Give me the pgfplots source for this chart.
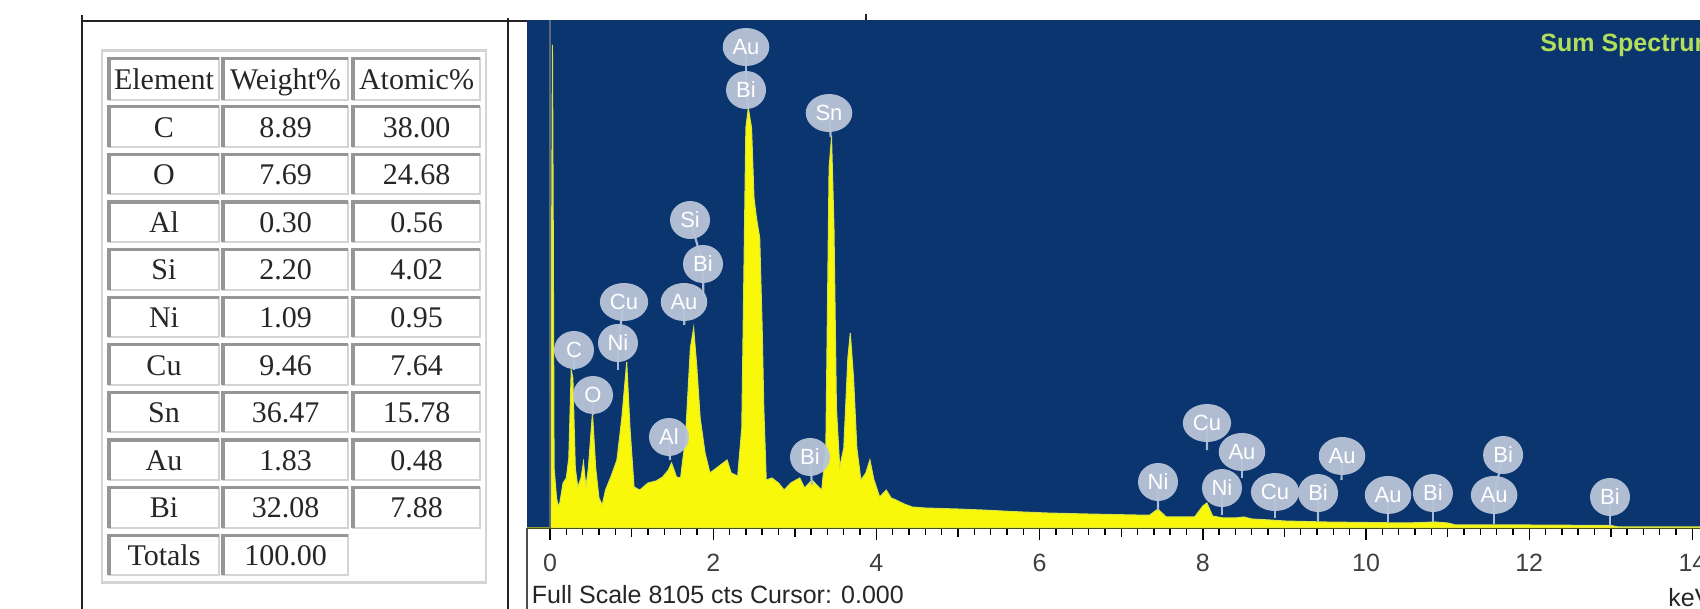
\documentclass[border=0pt]{standalone}
\usepackage{fontspec}
\setmainfont{Liberation Serif}
\setsansfont{Liberation Sans}
\usepackage{pgfplots}
\pgfplotsset{compat=1.18}
\usetikzlibrary{shapes.geometric}
\definecolor{specblue}{RGB}{10,53,110}
\definecolor{specyellow}{RGB}{250,248,10}
\definecolor{specedge}{RGB}{215,228,70}
\definecolor{bubcol}{RGB}{184,196,216}
\definecolor{stemcol}{RGB}{170,188,212}
\definecolor{sumcol}{RGB}{178,222,92}
\definecolor{celldark}{RGB}{150,150,150}
\definecolor{celllight}{RGB}{212,212,212}
\definecolor{frame}{RGB}{35,35,35}
\newcommand{\stem}[4]{\draw[stemcol, line width=1.1pt] (axis cs:#1,#2) -- (axis cs:#3,#4);}
\newcommand{\bub}[3]{\node[bubble] at (axis cs:#2,#3) {#1};}
\newcommand{\cellbox}[4]{% x1 x2 ytop ybottom
  \draw[celllight, line width=1pt] (#1pt,#3pt) rectangle (#2pt,#4pt);
  \draw[celldark, line width=1.6pt] (#1pt,#4pt) -- (#1pt,#3pt) -- (#2pt,#3pt);}
\newcommand{\celltext}[3]{\node[anchor=base, inner sep=0pt, text=black!85, font=\fontsize{15}{15}\selectfont] at (#1pt,#2pt) {#3};}
\begin{document}
\begin{tikzpicture}[bubble/.style={ellipse, fill=bubcol, fill opacity=0.95, text opacity=1, inner xsep=1.5pt, inner ysep=0pt, minimum width=20pt, minimum height=19pt, text=white, font=\sffamily\fontsize{11}{11}\selectfont}]
\useasboundingbox (0,0) rectangle (850pt,304.5pt);
% frame lines
\draw[frame, line width=1pt] (40.75pt,297pt) -- (40.75pt,0pt);
\draw[frame, line width=1pt] (40.75pt,294pt) -- (263.5pt,294pt);
\draw[frame, line width=1pt] (254pt,295.5pt) -- (254pt,0pt);
\draw[frame, line width=1pt] (433pt,297.5pt) -- (433pt,294.5pt);
% table outer box
\draw[celllight, line width=1.2pt] (51pt,279.25pt) rectangle (243pt,13.25pt);
% header
\cellbox{54.5}{109.5}{275.35}{254.4}
\cellbox{111.5}{174}{275.35}{254.4}
\cellbox{176.5}{240}{275.35}{254.4}
\celltext{82}{259.9}{Element}
\celltext{142.75}{259.9}{Weight\%}
\celltext{208.25}{259.9}{Atomic\%}
\foreach \r/\a/\b/\c in {0/C/8.89/38.00, 1/O/7.69/24.68, 2/Al/0.30/0.56, 3/Si/2.20/4.02, 4/Ni/1.09/0.95, 5/Cu/9.46/7.64, 6/Sn/36.47/15.78, 7/Au/1.83/0.48, 8/Bi/32.08/7.88}{
  \pgfmathsetmacro\yt{251.1-23.8*\r}
  \pgfmathsetmacro\yb{\yt-20}
  \pgfmathsetmacro\ytx{\yt-15.2}
  \cellbox{54.5}{109.5}{\yt}{\yb}
  \cellbox{111.5}{174}{\yt}{\yb}
  \cellbox{176.5}{240}{\yt}{\yb}
  \celltext{82}{\ytx}{\a}
  \celltext{142.75}{\ytx}{\b}
  \celltext{208.25}{\ytx}{\c}
}
\pgfmathsetmacro\yt{251.1-23.8*9}
\pgfmathsetmacro\yb{\yt-20}
\pgfmathsetmacro\ytx{\yt-15.2}
\cellbox{54.5}{109.5}{\yt}{\yb}
\cellbox{111.5}{174}{\yt}{\yb}
\celltext{82}{\ytx}{Totals}
\celltext{142.75}{\ytx}{100.00}

\begin{axis}[
  at={(263.5pt,40.5pt)}, anchor=south west,
  scale only axis, width=603.1pt, height=254pt,
  xmin=-0.282, xmax=14.5, ymin=0, ymax=8105,
  axis background/.style={fill=specblue},
  axis x line*=bottom, axis y line=none,
  x axis line style={black, line width=0.8pt, -},
  ytick=\empty,
  xtick={0,2,...,14},
  minor x tick num=9,
  extra x ticks={1,3,...,13},
  extra x tick labels={},
  extra x tick style={major tick length=4.5pt},
  tick align=outside,
  major tick length=6pt, minor tick length=3.5pt,
  tick style={black, line width=0.7pt},
  xticklabel style={font=\sffamily\fontsize{12.5}{12.5}\selectfont, text=black!75, anchor=base, yshift=-16pt},
  /pgf/number format/assume math mode=true,
  clip=false,
]
\addplot[fill=specyellow, draw=specedge, line width=0.5pt] coordinates {
(-0.28,0) (0.00,0) (0.012,479) (0.02,4787) (0.03,7706) (0.04,4787) (0.05,957) (0.08,479)
(0.10,351) (0.12,399) (0.16,718) (0.20,798) (0.23,1117) (0.26,2521) (0.28,2393)
(0.31,957) (0.34,654) (0.38,798) (0.41,1053) (0.44,654) (0.47,957) (0.52,1835)
(0.56,957) (0.60,479) (0.64,367) (0.68,606) (0.75,830) (0.82,1085) (0.88,1755)
(0.94,2649) (0.98,1596) (1.03,654) (1.10,606) (1.20,718) (1.30,750) (1.38,814)
(1.45,925) (1.49,1037) (1.55,814) (1.60,798) (1.66,1436) (1.72,2872) (1.76,3191)
(1.80,2553) (1.84,1755) (1.90,1197) (1.96,878) (2.04,957) (2.12,1037) (2.17,1085)
(2.22,878) (2.30,830) (2.35,1596) (2.40,6382) (2.43,6701) (2.47,6382) (2.50,5265)
(2.53,4946) (2.57,4627) (2.60,3191) (2.62,1915) (2.65,766) (2.72,798) (2.80,718)
(2.87,606) (2.95,718) (3.06,798) (3.12,638) (3.21,766) (3.28,670) (3.33,606)
(3.38,1276) (3.42,5744) (3.45,6238) (3.48,4787) (3.51,1915) (3.55,973) (3.60,1276)
(3.65,2712) (3.68,3111) (3.72,2393) (3.76,1276) (3.81,766) (3.87,878) (3.92,1085)
(3.97,766) (4.04,495) (4.12,606) (4.18,479) (4.24,447) (4.34,383) (4.44,335)
(4.60,319) (5.00,303) (5.30,287) (5.80,255) (6.10,239) (6.60,223) (7.20,207)
(7.35,207) (7.45,303) (7.55,176) (7.90,176) (8.00,351) (8.05,399) (8.12,191)
(8.25,160) (8.40,160) (8.50,176) (8.60,144) (8.82,128) (9.00,112) (9.50,96)
(10.00,88) (10.50,80) (10.85,96) (11.00,80) (11.10,48) (12.00,48) (13.00,40)
(13.10,16) (14.50,16)
} \closedcycle;
\draw[gray!70!specblue, line width=0.6pt] (axis cs:0,0) -- (axis cs:0,8105);
% stems
\stem{2.402}{7674}{2.402}{6988}
\stem{2.402}{6988}{2.43}{6701}
\stem{3.419}{6621}{3.44}{6238}
\stem{1.716}{4914}{1.875}{4212}
\stem{1.875}{4212}{1.88}{3700}
\stem{1.642}{3606}{1.645}{3239}
\stem{0.907}{3606}{0.833}{2952}
\stem{0.833}{2952}{0.833}{2521}
\stem{0.294}{2840}{0.29}{2521}
\stem{0.527}{2122}{0.527}{1803}
\stem{1.458}{1452}{1.47}{1085}
\stem{3.186}{1133}{3.21}{686}
\stem{7.451}{734}{7.45}{287}
\stem{8.051}{1675}{8.05}{1244}
\stem{8.480}{1213}{8.48}{798}
\stem{8.235}{638}{8.235}{207}
\stem{8.885}{574}{8.885}{160}
\stem{9.412}{558}{9.41}{96}
\stem{9.706}{1149}{9.70}{766}
\stem{10.27}{527}{10.27}{96}
\stem{10.82}{558}{10.82}{96}
\stem{11.68}{1165}{11.57}{527}
\stem{11.57}{527}{11.57}{64}
\stem{12.99}{495}{12.99}{32}
% bubbles
\bub{Au}{2.402}{7674}
\bub{Bi}{2.402}{6988}
\bub{Sn}{3.419}{6621}
\bub{Si}{1.716}{4914}
\bub{Bi}{1.875}{4212}
\bub{Au}{1.642}{3606}
\bub{Cu}{0.907}{3606}
\bub{Ni}{0.833}{2952}
\bub{C}{0.294}{2840}
\bub{O}{0.527}{2122}
\bub{Al}{1.458}{1452}
\bub{Bi}{3.186}{1133}
\bub{Ni}{7.451}{734}
\bub{Cu}{8.051}{1675}
\bub{Au}{8.480}{1213}
\bub{Ni}{8.235}{638}
\bub{Cu}{8.885}{574}
\bub{Bi}{9.412}{558}
\bub{Au}{9.706}{1149}
\bub{Au}{10.27}{527}
\bub{Bi}{10.82}{558}
\bub{Bi}{11.68}{1165}
\bub{Au}{11.57}{527}
\bub{Bi}{12.99}{495}
\end{axis}
% left border of tick area
\draw[black!70, line width=0.8pt] (263.5pt,40.5pt) -- (263.5pt,0pt);
\node[anchor=base west, inner sep=0pt, font=\sffamily\fontsize{12.5}{12.5}\selectfont, text=black!85] at (265.75pt,2.5pt) {Full Scale 8105 cts Cursor: 0.000};
\node[anchor=base west, inner sep=0pt, font=\sffamily\fontsize{12.5}{12.5}\selectfont, text=black!85] at (834pt,1pt) {keV};
\node[anchor=base west, inner sep=0pt, font=\sffamily\bfseries\fontsize{12.5}{12.5}\selectfont, text=sumcol] at (770pt,278.5pt) {Sum Spectrum};
\end{tikzpicture}
\end{document}
